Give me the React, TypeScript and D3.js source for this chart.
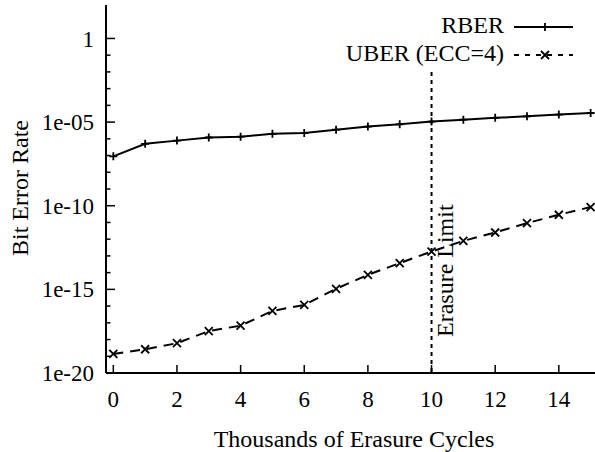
import React from "react";
import * as d3 from "d3";

const cycles = [0, 1, 2, 3, 4, 5, 6, 7, 8, 9, 10, 11, 12, 13, 14, 15];
const rber = [9e-8, 5e-7, 7.8e-7, 1.2e-6, 1.35e-6, 2e-6, 2.2e-6, 3.5e-6, 5.4e-6, 7.4e-6, 1.07e-5, 1.4e-5, 1.8e-5, 2.2e-5, 2.8e-5, 3.5e-5];
const uberExp = [-18.86, -18.58, -18.22, -17.49, -17.17, -16.29, -15.93, -14.97, -14.13, -13.43, -12.74, -12.1, -11.6, -11.04, -10.54, -10.08];
const uber = uberExp.map((e) => Math.pow(10, e));
const xTicks = [0, 2, 4, 6, 8, 10, 12, 14];
const yMajor = [1e-20, 1e-15, 1e-10, 1e-5, 1];
const yMajorLabels = ["1e-20", "1e-15", "1e-10", "1e-05", "1"];
const yMinorExp = d3.range(-20, 1);
const seriesNames = ["RBER", "UBER (ECC=4)"];
const limitX = 10;
const limitLabel = "Erasure Limit";
const xTitle = "Thousands of Erasure Cycles";
const yTitle = "Bit Error Rate";

export default function App() {
  const W = 595, H = 452;
  const x = d3.scaleLinear().domain([-0.23, 15.2]).range([106, 597]);
  const y = d3.scaleLog().domain([1e-20, 1e2]).range([373, 5]);
  const font = "'Liberation Serif', 'Times New Roman', serif";
  const line = d3.line<[number, number]>().x((d) => x(d[0])).y((d) => y(d[1]));
  const rPts: [number, number][] = cycles.map((c, i) => [c, rber[i]]);
  const uPts: [number, number][] = cycles.map((c, i) => [c, uber[i]]);
  const m = 4;
  const plus = (cx: number, cy: number, k: string) => (
    <path key={k} d={`M${cx - m},${cy}H${cx + m}M${cx},${cy - m}V${cy + m}`} stroke="#000" strokeWidth={1.8} />
  );
  const cross = (cx: number, cy: number, k: string) => (
    <path key={k} d={`M${cx - m},${cy - m}L${cx + m},${cy + m}M${cx - m},${cy + m}L${cx + m},${cy - m}`} stroke="#000" strokeWidth={1.8} />
  );
  return (
    <svg width={W} height={H} style={{ position: "absolute", left: 0, top: 0, background: "#fff" }} fontFamily={font}>
      <rect width={W} height={H} fill="#fff" />
      <line x1={106} y1={5} x2={106} y2={373} stroke="#000" strokeWidth={2} />
      <line x1={106} y1={373} x2={597} y2={373} stroke="#000" strokeWidth={2} />
      {yMinorExp.map((e) => {
        const v = Math.pow(10, e);
        const major = e % 5 === 0;
        return <line key={"yt" + e} x1={106} x2={106 + (major ? 9 : 4.5)} y1={y(v)} y2={y(v)} stroke="#000" strokeWidth={1.5} />;
      })}
      {yMajor.map((v, i) => (
        <text key={"yl" + i} x={94} y={y(v)} dy="0.35em" textAnchor="end" fontSize={23}>{yMajorLabels[i]}</text>
      ))}
      {xTicks.map((t) => (
        <g key={"xt" + t}>
          <line x1={x(t)} x2={x(t)} y1={373} y2={365} stroke="#000" strokeWidth={1.5} />
          <text x={x(t)} y={407} textAnchor="middle" fontSize={23}>{t}</text>
        </g>
      ))}
      <text x={354} y={447} textAnchor="middle" fontSize={24}>{xTitle}</text>
      <text transform={`translate(28,188) rotate(-90)`} textAnchor="middle" fontSize={24}>{yTitle}</text>
      <line x1={x(limitX)} x2={x(limitX)} y1={72} y2={373} stroke="#000" strokeWidth={2} strokeDasharray="4,4" />
      <text transform={`translate(453,337) rotate(-90)`} fontSize={24}>{limitLabel}</text>
      <path d={line(rPts) || ""} fill="none" stroke="#000" strokeWidth={2} />
      {rPts.map((d, i) => plus(x(d[0]), y(d[1]), "rp" + i))}
      <path d={line(uPts) || ""} fill="none" stroke="#000" strokeWidth={2} strokeDasharray="10,7" />
      {uPts.map((d, i) => cross(x(d[0]), y(d[1]), "up" + i))}
      <text x={504} y={33} textAnchor="end" fontSize={24}>{seriesNames[0]}</text>
      <line x1={514} x2={573} y1={27} y2={27} stroke="#000" strokeWidth={2} />
      {plus(545, 27, "lg1")}
      <text x={504} y={61} textAnchor="end" fontSize={24}>{seriesNames[1]}</text>
      <line x1={514} x2={573} y1={55} y2={55} stroke="#000" strokeWidth={2} strokeDasharray="5,6" />
      {cross(545, 55, "lg2")}
    </svg>
  );
}
